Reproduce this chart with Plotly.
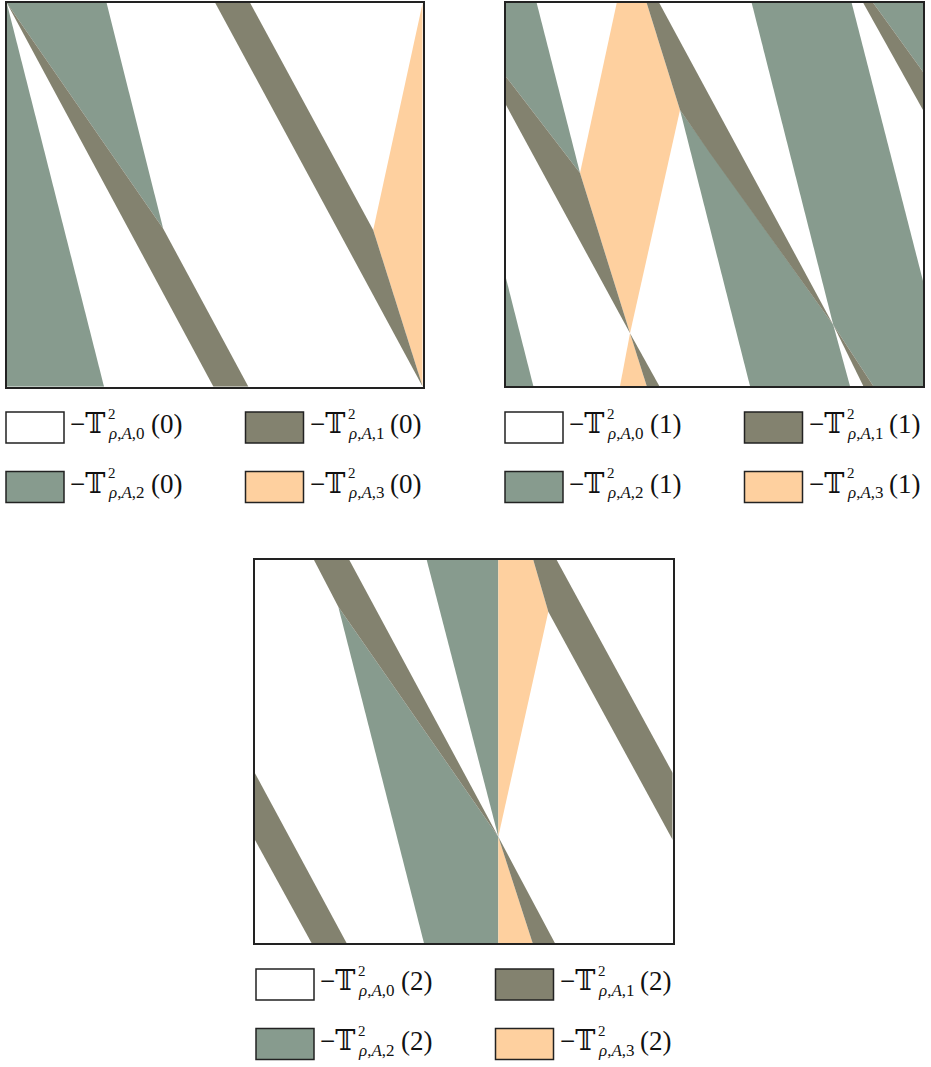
import plotly.graph_objects as go

# ---------------- data (unit-square coordinates, y up) ----------------
# categories: index k of  -T^2_{rho,A,k}(n)
CAT_INDEX = ["0", "1", "2", "3"]
PANEL_ARG = ["0", "1", "2"]
CAT_COLORS = ["#FFFFFF", "#83826F", "#879B8E", "#FED09F"]

# panel n = 0
P0_CAT1 = [
    [(0, 1), (0.376, 0.412), (0.581, 0), (0.497, 0)],
    [(0.501, 1), (0.585, 1), (0.881, 0.408), (1, 0)],
]
P0_CAT2 = [
    [(0, 1), (0, 0), (0.234, 0)],
    [(0, 1), (0.240, 1), (0.376, 0.412)],
]
P0_CAT3 = [
    [(1, 1), (0.881, 0.408), (1, 0)],
]

# panel n = 1
P1_CAT1 = [
    [(0, 0.8076), (0.1775, 0.556), (0.2974, 0.1376), (0, 0.7337)],
    [(0.2974, 0.1376), (0.3676, 0), (0.3374, 0)],
    [(0.3374, 1), (0.3676, 1), (0.7849, 0.1593), (0.4892, 0.6076), (0.4173, 0.7206)],
    [(0.7849, 0.1593), (0.8808, 0), (0.8568, 0)],
    [(0.8568, 1), (0.8808, 1), (1, 0.8206), (1, 0.7206)],
]
P1_CAT2 = [
    [(0, 1), (0.0736, 1), (0.1775, 0.556), (0, 0.8076)],
    [(0.4173, 0.7206), (0.7849, 0.1593), (0.8249, 0), (0.5851, 0)],
    [(0.5892, 1), (0.8290, 1), (1, 0.2742), (1, 0), (0.8808, 0), (0.7849, 0.1593)],
    [(0, 0.2812), (0.0655, 0), (0, 0)],
    [(0.8808, 1), (1, 1), (1, 0.8206)],
]
P1_CAT3 = [
    [(0.2655, 1), (0.3374, 1), (0.4173, 0.7206), (0.2974, 0.1376), (0.1775, 0.556)],
    [(0.2974, 0.1376), (0.3374, 0), (0.2734, 0)],
]

# panel n = 2
P2_CAT1 = [
    [(0.1412, 1), (0.2258, 1), (0.5825, 0.2781), (0.1994, 0.8782)],
    [(0.6663, 1), (0.7223, 1), (1, 0.4443), (1, 0.2695), (0.7022, 0.8651)],
    [(0, 0.4435), (0.2195, 0), (0.1357, 0), (0, 0.2695)],
    [(0.5825, 0.2781), (0.7182, 0), (0.6648, 0)],
]
P2_CAT2 = [
    [(0.4111, 1), (0.5825, 1), (0.5825, 0.2781)],
    [(0.1994, 0.8782), (0.5825, 0.2781), (0.5825, 0), (0.4046, 0)],
]
P2_CAT3 = [
    [(0.5825, 1), (0.6663, 1), (0.7022, 0.8651), (0.5825, 0.2781)],
    [(0.5825, 0.2781), (0.6648, 0), (0.5825, 0)],
]

PANELS = [
    {1: P0_CAT1, 2: P0_CAT2, 3: P0_CAT3},
    {1: P1_CAT1, 2: P1_CAT2, 3: P1_CAT3},
    {1: P2_CAT1, 2: P2_CAT2, 3: P2_CAT3},
]

# ---------------- layout (pixels) ----------------
W, H = 931, 1067
# panel frames: left, right, top, bottom
FRAMES = [(6.7, 422.7, 2.7, 386.7), (506, 923, 3, 386), (255, 672.7, 560, 943.3)]
# legend origin (first box left, first box top)
LEG_ORIGIN = [(6, 412), (505, 412), (256, 969)]
COL_STEP, ROW_STEP = 239.5, 59.5
BOX_W, BOX_H = 58, 31

FONT = "Liberation Serif, DejaVu Serif, DejaVu Sans, serif"
TXT = "#111111"


def px(x):
    return x / W


def py(y):
    return 1 - y / H


fig = go.Figure()
layout_axes = {}
for p, cats in enumerate(PANELS):
    l, r, t, b = FRAMES[p]
    sfx = "" if p == 0 else str(p + 1)
    for k in (2, 3, 1):
        for poly in cats[k]:
            xs = [q[0] for q in poly] + [poly[0][0]]
            ys = [q[1] for q in poly] + [poly[0][1]]
            fig.add_trace(go.Scatter(
                x=xs, y=ys, mode="lines", fill="toself",
                fillcolor=CAT_COLORS[k], line=dict(width=0, color=CAT_COLORS[k]),
                hoverinfo="skip", showlegend=False,
                xaxis="x" + sfx, yaxis="y" + sfx))
    ax = dict(range=[0, 1], showgrid=False, zeroline=False, showticklabels=False,
              ticks="", showline=True, mirror=True, linecolor="#222222", linewidth=2,
              fixedrange=True)
    layout_axes["xaxis" + sfx] = dict(ax, domain=[px(l), px(r)], anchor="y" + sfx)
    layout_axes["yaxis" + sfx] = dict(ax, domain=[py(b), py(t)], anchor="x" + sfx)

shapes = []
annotations = []


def note(text, x, y, size, anchor="left"):
    return dict(text=text, x=px(x), y=py(y), xref="paper", yref="paper",
                xanchor=anchor, yanchor="middle", showarrow=False, align="left",
                borderpad=0, font=dict(family=FONT, size=size, color=TXT))


for p in range(3):
    ox, oy = LEG_ORIGIN[p]
    for k in range(4):
        row, col = divmod(k, 2)
        bx = ox + col * COL_STEP
        by = oy + row * ROW_STEP
        shapes.append(dict(type="rect", xref="paper", yref="paper",
                           x0=px(bx), x1=px(bx + BOX_W), y0=py(by + BOX_H), y1=py(by),
                           fillcolor=CAT_COLORS[k], line=dict(color="#222222", width=1.5)))
        # main symbol
        annotations.append(note("\u2212\U0001D54B", bx + 100, by + 12, 27, anchor="right"))
        # superscript
        annotations.append(note("2", bx + 101, by + 2, 15))
        # subscript
        annotations.append(note("<i>\u03c1</i>,<i>A</i>," + CAT_INDEX[k], bx + 101, by + 21.5, 17))
        # argument
        annotations.append(note("(" + PANEL_ARG[p] + ")", bx + 143.5, by + 12, 27))

fig.update_layout(width=W, height=H, margin=dict(l=0, r=0, t=0, b=0),
                  paper_bgcolor="white", plot_bgcolor="white",
                  shapes=shapes, annotations=annotations, **layout_axes)

fig.write_html("out.html", config={"displayModeBar": False},
               post_script="document.body.style.margin='0';")
